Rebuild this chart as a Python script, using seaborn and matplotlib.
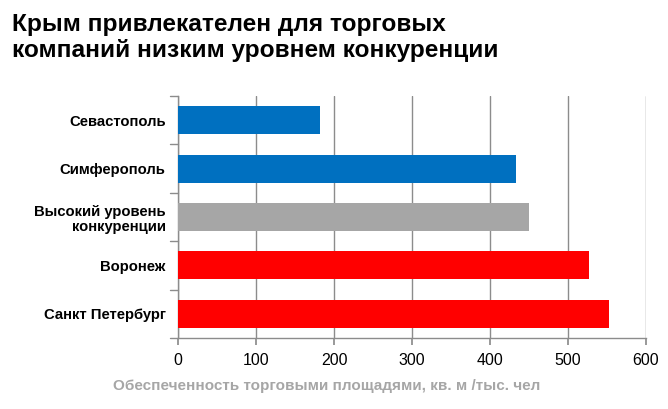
import matplotlib
matplotlib.use("Agg")
import matplotlib.pyplot as plt
import seaborn as sns
import pandas as pd

categories = ["Севастополь", "Симферополь", "Высокий уровень\nконкуренции", "Воронеж", "Санкт Петербург"]
values = [182, 434, 450, 527, 553]
colors = ["#0070C0", "#0070C0", "#A6A6A6", "#FF0000", "#FF0000"]
xticks = [0, 100, 200, 300, 400, 500, 600]
title = "Крым привлекателен для торговых\nкомпаний низким уровнем конкуренции"
xlabel = "Обеспеченность торговыми площадями, кв. м /тыс. чел"

sns.set_theme(style="white")
plt.rcParams["font.family"] = ["Liberation Sans", "DejaVu Sans"]

df = pd.DataFrame({"cat": categories, "val": values})

fig = plt.figure(figsize=(6.68, 4.09), dpi=100)
ax = fig.add_axes([0.2665, 0.1736, 0.7005, 0.5914])
sns.barplot(data=df, y="cat", x="val", hue="cat", palette=colors, legend=False,
            width=0.58, saturation=1, linewidth=0, ax=ax, zorder=3)

ax.set_xlim(0, 600)
ax.set_ylim(4.5, -0.5)
ax.set_xticks(xticks)
ax.set_xticklabels([str(t) for t in xticks], fontsize=11.5, color="black")
ax.xaxis.grid(True, color="#8c8c8c", linewidth=1.0, zorder=0)
ax.yaxis.grid(False)
ax.set_axisbelow(True)

ax.set_yticks(range(len(categories)))
ax.set_yticklabels(categories, fontsize=10.7, fontweight="bold", color="black", linespacing=1.15)
ax.tick_params(axis="y", length=0, pad=9)
ax.tick_params(axis="x", length=5, color="#8c8c8c", direction="out", pad=6, bottom=True)
for yb in [-0.5, 0.5, 1.5, 2.5, 3.5, 4.5]:
    ax.plot([-0.017, 0], [yb, yb], transform=ax.get_yaxis_transform(), color="#8c8c8c",
            linewidth=1.0, clip_on=False)

for s in ["top", "right"]:
    ax.spines[s].set_visible(False)
for s in ["left", "bottom"]:
    ax.spines[s].set_color("#8c8c8c")
    ax.spines[s].set_linewidth(1.0)

ax.set_ylabel("")
ax.set_xlabel("")
fig.text(327 / 668, 1 - 386 / 409, xlabel, fontsize=11, fontweight="bold", color="#A6A6A6",
         ha="center", va="center")

fig.text(0.018, 0.967, title, fontsize=17.6, fontweight="bold", color="black",
         ha="left", va="top", linespacing=1.15)

fig.savefig("out.png", dpi=100)
